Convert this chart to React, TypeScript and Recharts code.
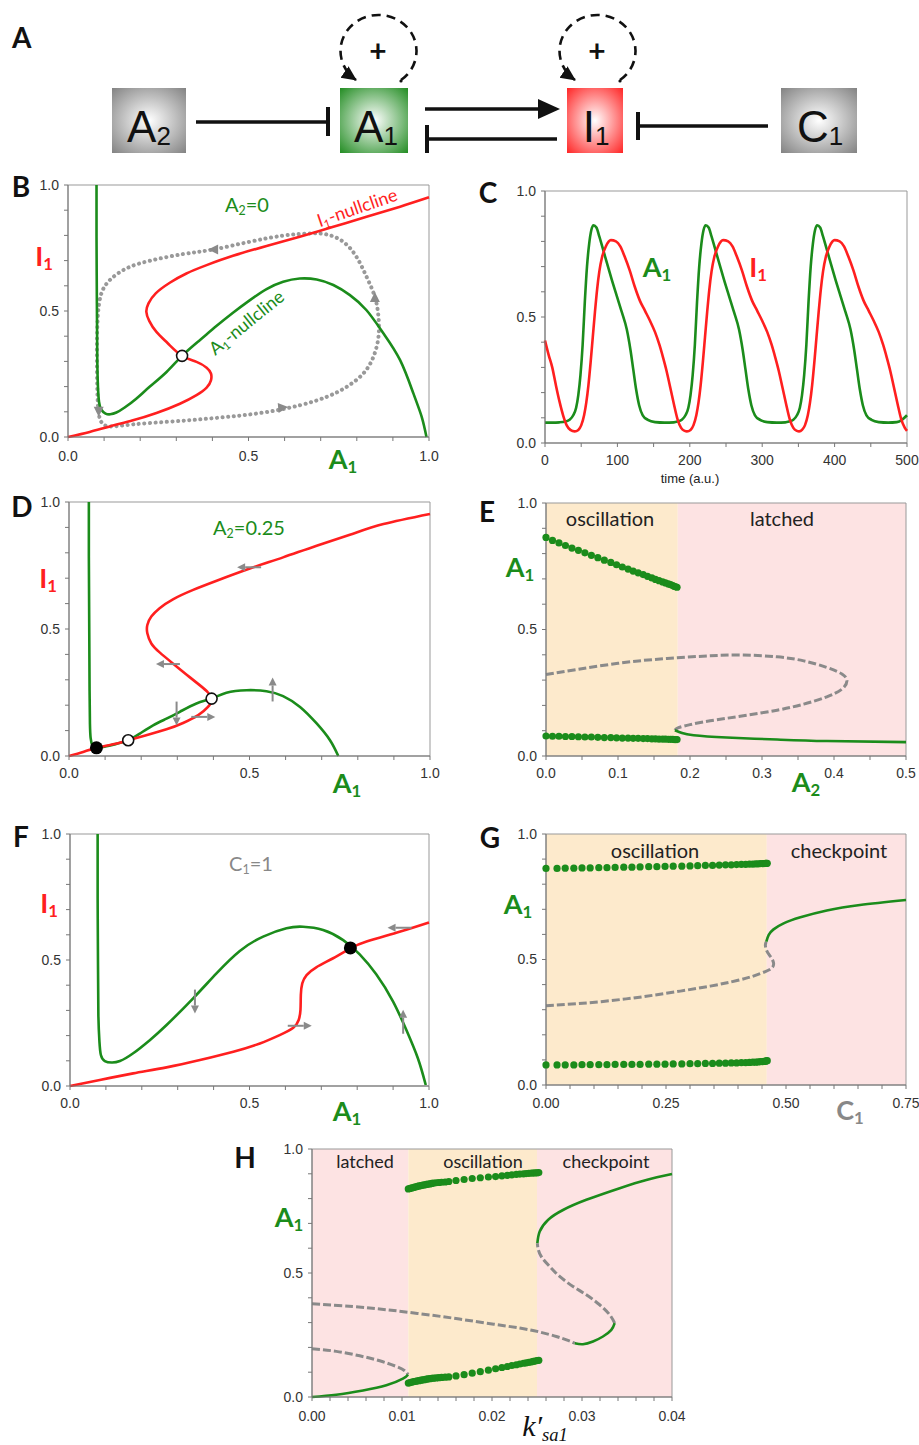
import React from 'react';
import { ComposedChart, Line, Scatter, XAxis, YAxis, ReferenceArea } from 'recharts';

const GREEN = '#1b8c1b';
const RED = '#ff1f1f';
const GRAY = '#8a8a8a';
const ORANGE_BG = '#fdeacc';
const PINK_BG = '#fde3e3';

type P = [number, number];

// ---- tick arrays ----
const unitTicks = [0, 0.1, 0.2, 0.3, 0.4, 0.5, 0.6, 0.7, 0.8, 0.9, 1.0];
const unitLabels = ['0.0', '', '', '', '', '0.5', '', '', '', '', '1.0'];
const timeTicks = [0, 50, 100, 150, 200, 250, 300, 350, 400, 450, 500];
const timeLabels = ['0', '', '100', '', '200', '', '300', '', '400', '', '500'];
const a2Ticks = [0, 0.05, 0.1, 0.15, 0.2, 0.25, 0.3, 0.35, 0.4, 0.45, 0.5];
const a2Labels = ['0.0', '', '0.1', '', '0.2', '', '0.3', '', '0.4', '', '0.5'];
const c1Ticks = [0, 0.05, 0.1, 0.15, 0.2, 0.25, 0.3, 0.35, 0.4, 0.45, 0.5, 0.55, 0.6, 0.65, 0.7, 0.75];
const c1Labels = ['0.00', '', '', '', '', '0.25', '', '', '', '', '0.50', '', '', '', '', '0.75'];
const kTicks = [0, 0.002, 0.004, 0.006, 0.008, 0.01, 0.012, 0.014, 0.016, 0.018, 0.02, 0.022, 0.024, 0.026, 0.028, 0.03, 0.032, 0.034, 0.036, 0.038, 0.04];
const kLabels = ['0.00', '', '', '', '', '0.01', '', '', '', '', '0.02', '', '', '', '', '0.03', '', '', '', '', '0.04'];

// ---- panel B (A2 = 0) ----
const bA1Null: P[] = [[0.079, 1.0], [0.079, 0.795], [0.080, 0.53], [0.081, 0.318], [0.083, 0.199], [0.086, 0.139], [0.092, 0.109], [0.104, 0.093], [0.117, 0.09], [0.134, 0.097], [0.157, 0.117], [0.189, 0.152], [0.226, 0.199], [0.273, 0.258], [0.316, 0.322], [0.365, 0.384], [0.411, 0.44], [0.457, 0.493], [0.504, 0.543], [0.55, 0.587], [0.596, 0.616], [0.642, 0.629], [0.689, 0.625], [0.735, 0.603], [0.781, 0.563], [0.827, 0.503], [0.873, 0.413], [0.92, 0.305], [0.957, 0.172], [0.98, 0.079], [0.993, 0.0]];
const bI1Null: P[] = [[0, 0], [0.06, 0.02], [0.116, 0.042], [0.18, 0.066], [0.245, 0.095], [0.31, 0.132], [0.356, 0.166], [0.384, 0.196], [0.396, 0.225], [0.396, 0.252], [0.384, 0.275], [0.356, 0.298], [0.316, 0.322], [0.277, 0.371], [0.245, 0.417], [0.225, 0.461], [0.217, 0.497], [0.223, 0.53], [0.243, 0.57], [0.282, 0.612], [0.328, 0.649], [0.384, 0.682], [0.457, 0.719], [0.55, 0.758], [0.642, 0.795], [0.735, 0.834], [0.827, 0.874], [0.92, 0.914], [1.0, 0.951]];
const bCycle: P[] = [[0.67, 0.808], [0.596, 0.799], [0.504, 0.775], [0.402, 0.744], [0.319, 0.726], [0.226, 0.699], [0.162, 0.669], [0.116, 0.623], [0.091, 0.563], [0.082, 0.464], [0.08, 0.331], [0.081, 0.199], [0.084, 0.106], [0.092, 0.06], [0.116, 0.042], [0.18, 0.05], [0.273, 0.06], [0.365, 0.07], [0.457, 0.082], [0.55, 0.099], [0.642, 0.126], [0.716, 0.159], [0.772, 0.199], [0.818, 0.252], [0.846, 0.318], [0.86, 0.397], [0.86, 0.477], [0.85, 0.556], [0.827, 0.636], [0.799, 0.715], [0.762, 0.775], [0.716, 0.804], [0.67, 0.808]];
const bArrows: [number, number, number][] = [[0.402, 0.744, 180], [0.085, 0.1, 270], [0.596, 0.117, 5], [0.85, 0.556, 90]];
const bSteady: P[] = [[0.316, 0.322]];

// ---- panel C (time course) ----
const cA1: P[] = [[0, 0.081], [10, 0.081], [20, 0.082], [28, 0.085], [34, 0.092], [39, 0.11], [43, 0.14], [46, 0.19], [49, 0.27], [52, 0.39], [55, 0.56], [58, 0.7], [61, 0.79], [64, 0.845], [67, 0.864], [71, 0.855], [75, 0.82], [80, 0.77], [86, 0.71], [92, 0.65], [99, 0.585], [106, 0.52], [113, 0.45], [118, 0.37], [122, 0.29], [126, 0.21], [130, 0.15], [135, 0.11], [142, 0.092], [152, 0.083], [165, 0.081], [178, 0.082],
  [183, 0.085], [189, 0.092], [194, 0.11], [198, 0.14], [201, 0.19], [204, 0.27], [207, 0.39], [210, 0.56], [213, 0.7], [216, 0.79], [219, 0.845], [222, 0.864], [226, 0.855], [230, 0.82], [235, 0.77], [241, 0.71], [247, 0.65], [254, 0.585], [261, 0.52], [268, 0.45], [273, 0.37], [277, 0.29], [281, 0.21], [285, 0.15], [290, 0.11], [297, 0.092], [307, 0.083], [320, 0.081], [332, 0.082],
  [337, 0.085], [343, 0.092], [348, 0.11], [352, 0.14], [355, 0.19], [358, 0.27], [361, 0.39], [364, 0.56], [367, 0.7], [370, 0.79], [373, 0.845], [376, 0.864], [380, 0.855], [384, 0.82], [389, 0.77], [395, 0.71], [401, 0.65], [408, 0.585], [415, 0.52], [422, 0.45], [427, 0.37], [431, 0.29], [435, 0.21], [439, 0.15], [444, 0.11], [451, 0.092], [461, 0.083], [474, 0.081], [486, 0.083], [493, 0.092], [500, 0.11]];
const cI1: P[] = [[0, 0.407], [5, 0.35], [10, 0.3], [15, 0.23], [20, 0.165], [25, 0.11], [30, 0.07], [35, 0.052], [41, 0.046], [46, 0.052], [50, 0.07], [54, 0.11], [57, 0.16], [60, 0.23], [63, 0.32], [66, 0.42], [69, 0.52], [72, 0.61], [75, 0.68], [79, 0.74], [84, 0.78], [91, 0.805], [98, 0.8], [104, 0.78], [110, 0.74], [117, 0.685], [124, 0.62], [131, 0.565], [138, 0.525], [145, 0.485], [152, 0.44], [158, 0.39], [163, 0.34], [168, 0.285], [173, 0.22], [178, 0.155], [183, 0.095], [188, 0.06], [193, 0.048], [196, 0.046],
  [201, 0.052], [205, 0.07], [209, 0.11], [212, 0.16], [215, 0.23], [218, 0.32], [221, 0.42], [224, 0.52], [227, 0.61], [230, 0.68], [234, 0.74], [239, 0.78], [246, 0.805], [253, 0.8], [259, 0.78], [265, 0.74], [272, 0.685], [279, 0.62], [286, 0.565], [293, 0.525], [300, 0.485], [307, 0.44], [313, 0.39], [318, 0.34], [323, 0.285], [328, 0.22], [333, 0.155], [338, 0.095], [343, 0.06], [348, 0.048], [351, 0.046],
  [355, 0.052], [359, 0.07], [363, 0.11], [366, 0.16], [369, 0.23], [372, 0.32], [375, 0.42], [378, 0.52], [381, 0.61], [384, 0.68], [388, 0.74], [393, 0.78], [400, 0.805], [407, 0.8], [413, 0.78], [419, 0.74], [426, 0.685], [433, 0.62], [440, 0.565], [447, 0.525], [454, 0.485], [461, 0.44], [467, 0.39], [472, 0.34], [477, 0.285], [482, 0.22], [487, 0.155], [492, 0.095], [497, 0.06], [500, 0.048]];

// ---- panel D (A2 = 0.25) ----
const dA1Null: P[] = [[0.055, 1.0], [0.055, 0.786], [0.056, 0.522], [0.057, 0.259], [0.058, 0.128], [0.06, 0.07], [0.065, 0.04], [0.076, 0.032], [0.104, 0.038], [0.135, 0.049], [0.164, 0.062], [0.196, 0.088], [0.233, 0.121], [0.27, 0.147], [0.307, 0.174], [0.353, 0.207], [0.395, 0.226], [0.436, 0.249], [0.492, 0.259], [0.547, 0.255], [0.593, 0.236], [0.64, 0.193], [0.686, 0.128], [0.723, 0.062], [0.746, 0.0]];
const dI1Null: P[] = [[0, 0], [0.039, 0.016], [0.076, 0.032], [0.122, 0.046], [0.164, 0.062], [0.214, 0.082], [0.27, 0.105], [0.316, 0.13], [0.358, 0.161], [0.385, 0.193], [0.395, 0.222], [0.385, 0.25], [0.362, 0.279], [0.325, 0.321], [0.288, 0.364], [0.251, 0.408], [0.228, 0.443], [0.217, 0.483], [0.217, 0.516], [0.228, 0.549], [0.251, 0.582], [0.288, 0.617], [0.344, 0.654], [0.409, 0.69], [0.501, 0.738], [0.593, 0.782], [0.686, 0.828], [0.778, 0.871], [0.871, 0.913], [1.0, 0.953]];
const dStable: P[] = [[0.076, 0.032]];
const dUnstable: P[] = [[0.164, 0.062], [0.395, 0.226]];
const dArrows: [number, number, number][] = [[0.499, 0.743, 180], [0.274, 0.362, 180], [0.298, 0.167, 270], [0.372, 0.154, 0], [0.564, 0.262, 90]];

// ---- panel E (bifurcation in A2) ----
const eUnstable: P[] = [[0, 0.322], [0.043, 0.342], [0.089, 0.362], [0.136, 0.378], [0.182, 0.388], [0.228, 0.396], [0.274, 0.399], [0.321, 0.392], [0.358, 0.376], [0.39, 0.35], [0.411, 0.324], [0.418, 0.297], [0.411, 0.264], [0.39, 0.234], [0.358, 0.205], [0.321, 0.181], [0.274, 0.159], [0.228, 0.139], [0.2, 0.124], [0.184, 0.112], [0.179, 0.102]];
const eStable: P[] = [[0.179, 0.102], [0.189, 0.091], [0.205, 0.082], [0.251, 0.073], [0.321, 0.065], [0.39, 0.059], [0.5, 0.055]];
const eDotX = [0, 0.009, 0.018, 0.027, 0.036, 0.045, 0.054, 0.063, 0.072, 0.081, 0.09, 0.098, 0.106, 0.114, 0.121, 0.128, 0.135, 0.141, 0.147, 0.152, 0.157, 0.162, 0.166, 0.17, 0.173, 0.176, 0.178, 0.18, 0.182];
const eTopY = [0.864, 0.852, 0.842, 0.832, 0.822, 0.813, 0.803, 0.793, 0.784, 0.774, 0.765, 0.756, 0.747, 0.739, 0.731, 0.724, 0.717, 0.71, 0.704, 0.698, 0.693, 0.688, 0.684, 0.68, 0.677, 0.674, 0.671, 0.669, 0.667];
const eBotY = [0.079, 0.078, 0.078, 0.077, 0.077, 0.076, 0.075, 0.075, 0.074, 0.073, 0.073, 0.072, 0.071, 0.071, 0.07, 0.07, 0.069, 0.069, 0.068, 0.068, 0.067, 0.067, 0.067, 0.066, 0.066, 0.066, 0.065, 0.065, 0.065];
const eOscEnd = 0.183;

// ---- panel F (C1 = 1) ----
const fA1Null: P[] = [[0.077, 1.0], [0.077, 0.745], [0.078, 0.48], [0.079, 0.282], [0.082, 0.176], [0.086, 0.123], [0.097, 0.099], [0.116, 0.093], [0.139, 0.099], [0.176, 0.13], [0.223, 0.183], [0.269, 0.242], [0.343, 0.348], [0.408, 0.447], [0.473, 0.536], [0.538, 0.593], [0.603, 0.626], [0.649, 0.632], [0.705, 0.619], [0.761, 0.579], [0.807, 0.522], [0.853, 0.443], [0.9, 0.335], [0.937, 0.222], [0.969, 0.11], [0.991, 0.004]];
const fI1Null: P[] = [[0, 0], [0.083, 0.024], [0.176, 0.05], [0.269, 0.074], [0.362, 0.103], [0.455, 0.136], [0.529, 0.169], [0.584, 0.202], [0.622, 0.231], [0.637, 0.262], [0.642, 0.302], [0.643, 0.361], [0.647, 0.407], [0.659, 0.44], [0.686, 0.471], [0.733, 0.507], [0.781, 0.546], [0.826, 0.573], [0.918, 0.612], [1.0, 0.649]];
const fStable: P[] = [[0.781, 0.548]];
const fArrows: [number, number, number][] = [[0.918, 0.628, 180], [0.348, 0.335, 270], [0.64, 0.239, 0], [0.928, 0.255, 90]];

// ---- panel G (bifurcation in C1) ----
const gUnstable: P[] = [[0, 0.316], [0.065, 0.324], [0.134, 0.336], [0.203, 0.352], [0.273, 0.372], [0.342, 0.394], [0.398, 0.416], [0.432, 0.434], [0.457, 0.452], [0.471, 0.467], [0.474, 0.487], [0.468, 0.511], [0.46, 0.534], [0.457, 0.558], [0.459, 0.571]];
const gStable: P[] = [[0.459, 0.571], [0.464, 0.598], [0.474, 0.62], [0.495, 0.644], [0.53, 0.668], [0.585, 0.695], [0.654, 0.717], [0.75, 0.737]];
const gDotX = [0, 0.023, 0.04, 0.058, 0.075, 0.092, 0.11, 0.127, 0.144, 0.162, 0.179, 0.196, 0.214, 0.231, 0.248, 0.265, 0.283, 0.3, 0.316, 0.332, 0.347, 0.361, 0.374, 0.386, 0.397, 0.407, 0.416, 0.424, 0.431, 0.437, 0.442, 0.447, 0.451, 0.454, 0.457, 0.459, 0.461];
const gTopY = [0.863, 0.863, 0.864, 0.864, 0.865, 0.865, 0.866, 0.866, 0.867, 0.868, 0.868, 0.869, 0.87, 0.87, 0.871, 0.872, 0.872, 0.873, 0.874, 0.875, 0.875, 0.876, 0.877, 0.877, 0.878, 0.879, 0.879, 0.88, 0.88, 0.881, 0.881, 0.882, 0.882, 0.882, 0.883, 0.883, 0.883];
const gBotY = [0.08, 0.08, 0.08, 0.08, 0.081, 0.081, 0.081, 0.081, 0.082, 0.082, 0.082, 0.082, 0.083, 0.083, 0.083, 0.084, 0.084, 0.085, 0.085, 0.086, 0.086, 0.087, 0.087, 0.088, 0.088, 0.089, 0.089, 0.09, 0.091, 0.091, 0.092, 0.093, 0.093, 0.094, 0.095, 0.096, 0.097];
const gOscEnd = 0.46;

// ---- panel H (bifurcation in k'sa1) ----
const hUnstableTop: P[] = [[0, 0.376], [0.00456, 0.365], [0.00826, 0.352], [0.01196, 0.336], [0.01567, 0.318], [0.01937, 0.298], [0.02307, 0.278], [0.0253, 0.262], [0.02715, 0.244], [0.02844, 0.228], [0.02919, 0.217]];
const hStableMid: P[] = [[0.02919, 0.217], [0.03011, 0.213], [0.03122, 0.224], [0.03233, 0.244], [0.03326, 0.271], [0.03363, 0.298]];
const hUnstableMid: P[] = [[0.03363, 0.298], [0.03307, 0.332], [0.03196, 0.372], [0.03048, 0.412], [0.029, 0.446], [0.02752, 0.486], [0.02641, 0.526], [0.02548, 0.566], [0.02511, 0.6], [0.02504, 0.62]];
const hStableTop: P[] = [[0.02504, 0.62], [0.0253, 0.667], [0.02622, 0.714], [0.02789, 0.754], [0.03048, 0.795], [0.03419, 0.842], [0.03715, 0.875], [0.04, 0.899]];
const hUnstableLow: P[] = [[0, 0.195], [0.0027, 0.184], [0.0053, 0.166], [0.00752, 0.146], [0.00937, 0.123], [0.0103, 0.106], [0.01067, 0.09]];
const hStableLow: P[] = [[0, 0], [0.0027, 0.009], [0.00567, 0.026], [0.00826, 0.047], [0.0101, 0.074], [0.01067, 0.09]];
const hDotX = [0.0107, 0.0109, 0.0111, 0.0113, 0.0115, 0.0117, 0.0119, 0.0121, 0.0123, 0.0125, 0.0127, 0.0129, 0.0131, 0.0133, 0.0135, 0.0138, 0.0141, 0.0144, 0.0148, 0.0152, 0.016, 0.0169, 0.0178, 0.0187, 0.0196, 0.0204, 0.0211, 0.0217, 0.0222, 0.0227, 0.0231, 0.0235, 0.0238, 0.0241, 0.0244, 0.0246, 0.0248, 0.025, 0.0252];
const hTopY = [0.839, 0.841, 0.843, 0.845, 0.847, 0.849, 0.851, 0.852, 0.854, 0.855, 0.857, 0.858, 0.859, 0.861, 0.862, 0.864, 0.865, 0.866, 0.867, 0.869, 0.873, 0.877, 0.881, 0.884, 0.887, 0.889, 0.892, 0.894, 0.896, 0.898, 0.899, 0.9, 0.901, 0.902, 0.903, 0.903, 0.904, 0.904, 0.905];
const hBotY = [0.056, 0.058, 0.06, 0.062, 0.063, 0.065, 0.066, 0.068, 0.069, 0.07, 0.072, 0.073, 0.074, 0.075, 0.076, 0.077, 0.078, 0.079, 0.08, 0.081, 0.085, 0.09, 0.096, 0.102, 0.108, 0.114, 0.119, 0.123, 0.127, 0.13, 0.133, 0.136, 0.138, 0.14, 0.142, 0.144, 0.145, 0.147, 0.148];
const hOscStart = 0.0107;
const hOscEnd = 0.0250;

// ---- helpers ----
const pts = (a: P[]) => a.map(([x, y]) => ({ x, y }));
const dots = (xs: number[], ys: number[]) => xs.map((x, i) => ({ x, y: ys[i] }));
const arrows = (a: [number, number, number][]) => a.map(([x, y, dir]) => ({ x, y, dir }));
const fmt = (ticks: number[], labels: string[]) => (v: number) => {
  const i = ticks.findIndex((t) => Math.abs(t - v) < 1e-9);
  return i >= 0 ? labels[i] : '';
};

const tickFont = { fontSize: 14, fill: '#333', fontFamily: 'Liberation Sans, Arial, sans-serif' };

const GreenDot = (p: any) => <circle cx={p.cx} cy={p.cy} r={3.6} fill={GREEN} />;
const OpenCircle = (p: any) => <circle cx={p.cx} cy={p.cy} r={5.5} fill="#fff" stroke="#111" strokeWidth={1.6} />;
const BlackDot = (p: any) => <circle cx={p.cx} cy={p.cy} r={6.5} fill="#000" />;
const Head = (p: any) => {
  const a = (p.payload.dir * Math.PI) / 180;
  const dx = Math.cos(a), dy = -Math.sin(a);
  const tx = p.cx + dx * 5, ty = p.cy + dy * 5;
  const bx = p.cx - dx * 5, by = p.cy - dy * 5;
  return <polygon points={`${tx},${ty} ${bx - dy * 5},${by + dx * 5} ${bx + dy * 5},${by - dx * 5}`} fill={GRAY} />;
};
const Arrow = (p: any) => {
  const a = (p.payload.dir * Math.PI) / 180;
  const dx = Math.cos(a), dy = -Math.sin(a);
  const L = 12;
  const x1 = p.cx - dx * L, y1 = p.cy - dy * L;
  const tx = p.cx + dx * L, ty = p.cy + dy * L;
  const bx = tx - dx * 8, by = ty - dy * 8;
  return (
    <g>
      <line x1={x1} y1={y1} x2={bx} y2={by} stroke={GRAY} strokeWidth={2} />
      <polygon points={`${tx},${ty} ${bx - dy * 4},${by + dx * 4} ${bx + dy * 4},${by - dx * 4}`} fill={GRAY} />
    </g>
  );
};

type Box = { l: number; t: number; w: number; h: number };

function Plot(props: {
  box: Box; xDomain: [number, number]; xTicks: number[]; xLabels: string[]; xGap: number; children: React.ReactNode;
}) {
  const { box, xDomain, xTicks, xLabels, xGap, children } = props;
  const YW = 44, XH = 30, MT = 8, MR = 24;
  return (
    <div style={{ position: 'absolute', left: box.l - YW, top: box.t - MT }}>
      <ComposedChart width={box.w + YW + MR} height={box.h + MT + XH} margin={{ top: MT, right: MR, left: 0, bottom: 0 }}>
        <XAxis type="number" dataKey="x" domain={xDomain} ticks={xTicks} interval={0} tickFormatter={fmt(xTicks, xLabels)}
          height={XH} stroke="#777" tickSize={4} tickMargin={xGap} tick={tickFont} />
        <YAxis type="number" dataKey="y" domain={[0, 1]} ticks={unitTicks} interval={0} tickFormatter={fmt(unitTicks, unitLabels)}
          width={YW} stroke="#777" tickSize={4} tickMargin={5} tick={tickFont} />
        {children}
        <ReferenceArea x1={xDomain[0]} x2={xDomain[1]} y1={0} y2={1} fill="none" stroke="#999" strokeWidth={1} />
      </ComposedChart>
    </div>
  );
}

const curve = (key: string, data: P[], color: string, type: any = 'natural', extra: any = {}) => (
  <Line key={key} data={pts(data)} dataKey="y" type={type} stroke={color} strokeWidth={2.6} dot={false} activeDot={false}
    isAnimationActive={false} legendType="none" {...extra} />
);
const dashed = (key: string, data: P[]) =>
  curve(key, data, GRAY, 'natural', { strokeDasharray: '8 3', strokeWidth: 3 });

function Txt(props: { x: number; y: number; size?: number; color?: string; bold?: boolean; rotate?: number; font?: string; italic?: boolean; children: React.ReactNode }) {
  const { x, y, size = 20, color = '#222', bold = false, rotate = 0, font = 'Lato, "Open Sans", sans-serif', italic = false, children } = props;
  return (
    <div style={{ position: 'absolute', left: x, top: y, transform: `translate(-50%, -50%) rotate(${rotate}deg)`, fontSize: size, color,
      fontWeight: bold ? 700 : 400, fontStyle: italic ? 'italic' : 'normal', fontFamily: font, whiteSpace: 'nowrap', lineHeight: 1 }}>
      {children}
    </div>
  );
}
const Sub = ({ children }: { children: React.ReactNode }) => (
  <sub style={{ fontSize: '0.62em', verticalAlign: '-0.28em', lineHeight: 0 }}>{children}</sub>
);

function Network() {
  const box = (x: number, w: number, grad: string) => <rect x={x} y={88} width={w} height={65} fill={`url(#${grad})`} />;
  const nodeFont = '"Liberation Sans Narrow", "Liberation Sans", sans-serif';
  const label = (cx: number, main: string, sub: string) => (
    <text x={cx} y={142} textAnchor="middle" fontSize={44} fontFamily={nodeFont} fill="#111">
      {main}<tspan fontSize={26} dy={3}>{sub}</tspan>
    </text>
  );
  const loop = (sx: number, ex: number) => (
    <path d={`M ${sx} 80 A 38 36 0 1 0 ${ex} 80`} fill="none" stroke="#111" strokeWidth={2.6} strokeDasharray="9 6" markerEnd="url(#ah)" />
  );
  return (
    <svg width={919} height={170} style={{ position: 'absolute', left: 0, top: 0 }}>
      <defs>
        <radialGradient id="gGray" cx="50%" cy="50%" r="72%"><stop offset="0%" stopColor="#fff" /><stop offset="100%" stopColor="#808080" /></radialGradient>
        <radialGradient id="gGreen" cx="50%" cy="50%" r="72%"><stop offset="0%" stopColor="#fff" /><stop offset="100%" stopColor="#1e8a1e" /></radialGradient>
        <radialGradient id="gRed" cx="50%" cy="50%" r="72%"><stop offset="0%" stopColor="#fff" /><stop offset="100%" stopColor="#ff2020" /></radialGradient>
        <marker id="ah" markerUnits="userSpaceOnUse" markerWidth={16} markerHeight={16} refX={14} refY={7} orient="auto">
          <path d="M0,0 L15,7 L0,14 z" fill="#111" />
        </marker>
      </defs>
      <text x={12} y={48} fontSize={28} fontWeight="bold" fontFamily="Lato, sans-serif" fill="#111">A</text>
      {box(112, 74, 'gGray')}
      {box(340, 68, 'gGreen')}
      {box(567, 56, 'gRed')}
      {box(781, 76, 'gGray')}
      {label(149, 'A', '2')}
      {label(376, 'A', '1')}
      {label(596, 'I', '1')}
      {label(820, 'C', '1')}
      <line x1={196} y1={122} x2={328} y2={122} stroke="#111" strokeWidth={3.5} />
      <line x1={328} y1={107} x2={328} y2={136} stroke="#111" strokeWidth={4} />
      <line x1={425} y1={109} x2={542} y2={109} stroke="#111" strokeWidth={3.5} />
      <polygon points="560,109 538,99 538,119" fill="#111" />
      <line x1={427} y1={139} x2={557} y2={139} stroke="#111" strokeWidth={3.5} />
      <line x1={427} y1={125} x2={427} y2={153} stroke="#111" strokeWidth={4} />
      <line x1={638} y1={126} x2={768} y2={126} stroke="#111" strokeWidth={3.5} />
      <line x1={638} y1={112} x2={638} y2={140} stroke="#111" strokeWidth={4} />
      {loop(401, 356)}
      {loop(620, 575)}
      <circle cx={401} cy={81} r={1.6} fill="#111" />
      <circle cx={620} cy={81} r={1.6} fill="#111" />
      <text x={378} y={62} textAnchor="middle" fontSize={30} fontWeight="bold" fontFamily="Lato, sans-serif" fill="#111">+</text>
      <text x={597} y={62} textAnchor="middle" fontSize={30} fontWeight="bold" fontFamily="Lato, sans-serif" fill="#111">+</text>
    </svg>
  );
}

const boxB: Box = { l: 68, t: 185, w: 361, h: 252 };
const boxC: Box = { l: 545, t: 191, w: 362, h: 252 };
const boxD: Box = { l: 69, t: 502, w: 361, h: 254 };
const boxE: Box = { l: 546, t: 503, w: 360, h: 253 };
const boxF: Box = { l: 70, t: 834, w: 359, h: 252 };
const boxG: Box = { l: 546, t: 834, w: 360, h: 251 };
const boxH: Box = { l: 312, t: 1149, w: 360, h: 248 };

export default function App() {
  const bigLabel = 27;
  return (
    <div style={{ position: 'absolute', left: 0, top: 0, width: 919, height: 1445, background: '#fff', overflow: 'hidden' }}>
      <Network />

      <Plot box={boxB} xDomain={[0, 1]} xTicks={unitTicks} xLabels={unitLabels} xGap={10}>
        {curve('b-cyc', bCycle, '#999', 'natural', { strokeDasharray: '0.1 5.5', strokeLinecap: 'round', strokeWidth: 4 })}
        {curve('b-a1', bA1Null, GREEN)}
        {curve('b-i1', bI1Null, RED)}
        <Scatter key="b-arr" data={arrows(bArrows)} dataKey="y" shape={Head} isAnimationActive={false} />
        <Scatter key="b-ss" data={pts(bSteady)} dataKey="y" shape={OpenCircle} isAnimationActive={false} />
      </Plot>

      <Plot box={boxC} xDomain={[0, 500]} xTicks={timeTicks} xLabels={timeLabels} xGap={8}>
        {curve('c-a1', cA1, GREEN, 'monotone')}
        {curve('c-i1', cI1, RED, 'monotone')}
      </Plot>

      <Plot box={boxD} xDomain={[0, 1]} xTicks={unitTicks} xLabels={unitLabels} xGap={8}>
        {curve('d-a1', dA1Null, GREEN)}
        {curve('d-i1', dI1Null, RED)}
        <Scatter key="d-arr" data={arrows(dArrows)} dataKey="y" shape={Arrow} isAnimationActive={false} />
        <Scatter key="d-st" data={pts(dStable)} dataKey="y" shape={BlackDot} isAnimationActive={false} />
        <Scatter key="d-un" data={pts(dUnstable)} dataKey="y" shape={OpenCircle} isAnimationActive={false} />
      </Plot>

      <Plot box={boxE} xDomain={[0, 0.5]} xTicks={a2Ticks} xLabels={a2Labels} xGap={8}>
        <ReferenceArea key="e-osc" x1={0} x2={eOscEnd} y1={0} y2={1} fill={ORANGE_BG} fillOpacity={1} stroke="none" />
        <ReferenceArea key="e-lat" x1={eOscEnd} x2={0.5} y1={0} y2={1} fill={PINK_BG} fillOpacity={1} stroke="none" />
        {dashed('e-un', eUnstable)}
        {curve('e-st', eStable, GREEN)}
        <Scatter key="e-top" data={dots(eDotX, eTopY)} dataKey="y" shape={GreenDot} isAnimationActive={false} />
        <Scatter key="e-bot" data={dots(eDotX, eBotY)} dataKey="y" shape={GreenDot} isAnimationActive={false} />
      </Plot>

      <Plot box={boxF} xDomain={[0, 1]} xTicks={unitTicks} xLabels={unitLabels} xGap={8}>
        {curve('f-a1', fA1Null, GREEN)}
        {curve('f-i1', fI1Null, RED)}
        <Scatter key="f-arr" data={arrows(fArrows)} dataKey="y" shape={Arrow} isAnimationActive={false} />
        <Scatter key="f-st" data={pts(fStable)} dataKey="y" shape={BlackDot} isAnimationActive={false} />
      </Plot>

      <Plot box={boxG} xDomain={[0, 0.75]} xTicks={c1Ticks} xLabels={c1Labels} xGap={9}>
        <ReferenceArea key="g-osc" x1={0} x2={gOscEnd} y1={0} y2={1} fill={ORANGE_BG} fillOpacity={1} stroke="none" />
        <ReferenceArea key="g-chk" x1={gOscEnd} x2={0.75} y1={0} y2={1} fill={PINK_BG} fillOpacity={1} stroke="none" />
        {dashed('g-un', gUnstable)}
        {curve('g-st', gStable, GREEN)}
        <Scatter key="g-top" data={dots(gDotX, gTopY)} dataKey="y" shape={GreenDot} isAnimationActive={false} />
        <Scatter key="g-bot" data={dots(gDotX, gBotY)} dataKey="y" shape={GreenDot} isAnimationActive={false} />
      </Plot>

      <Plot box={boxH} xDomain={[0, 0.04]} xTicks={kTicks} xLabels={kLabels} xGap={10}>
        <ReferenceArea key="h-lat" x1={0} x2={hOscStart} y1={0} y2={1} fill={PINK_BG} fillOpacity={1} stroke="none" />
        <ReferenceArea key="h-osc" x1={hOscStart} x2={hOscEnd} y1={0} y2={1} fill={ORANGE_BG} fillOpacity={1} stroke="none" />
        <ReferenceArea key="h-chk" x1={hOscEnd} x2={0.04} y1={0} y2={1} fill={PINK_BG} fillOpacity={1} stroke="none" />
        {dashed('h-ut', hUnstableTop)}
        {dashed('h-um', hUnstableMid)}
        {dashed('h-ul', hUnstableLow)}
        {curve('h-sm', hStableMid, GREEN)}
        {curve('h-st', hStableTop, GREEN)}
        {curve('h-sl', hStableLow, GREEN)}
        <Scatter key="h-top" data={dots(hDotX, hTopY)} dataKey="y" shape={GreenDot} isAnimationActive={false} />
        <Scatter key="h-bot" data={dots(hDotX, hBotY)} dataKey="y" shape={GreenDot} isAnimationActive={false} />
      </Plot>

      {/* panel letters */}
      <Txt x={21} y={186} size={28} bold color="#111">B</Txt>
      <Txt x={488} y={192} size={28} bold color="#111">C</Txt>
      <Txt x={22} y={506} size={28} bold color="#111">D</Txt>
      <Txt x={487} y={511} size={28} bold color="#111">E</Txt>
      <Txt x={21} y={836} size={28} bold color="#111">F</Txt>
      <Txt x={490} y={837} size={28} bold color="#111">G</Txt>
      <Txt x={245} y={1157} size={28} bold color="#111">H</Txt>

      {/* B */}
      <Txt x={44} y={255} size={bigLabel} bold color={RED}>I<Sub>1</Sub></Txt>
      <Txt x={343} y={458} size={bigLabel} bold color={GREEN}>A<Sub>1</Sub></Txt>
      <Txt x={247} y={204} size={20} color={GREEN}>A<Sub>2</Sub>=0</Txt>
      <Txt x={357} y={207} size={18} color={RED} rotate={-19}>I<Sub>1</Sub>-nullcline</Txt>
      <Txt x={246} y={322} size={18} color={GREEN} rotate={-39}>A<Sub>1</Sub>-nullcline</Txt>

      {/* C */}
      <Txt x={657} y={266} size={bigLabel} bold color={GREEN}>A<Sub>1</Sub></Txt>
      <Txt x={758} y={266} size={bigLabel} bold color={RED}>I<Sub>1</Sub></Txt>
      <Txt x={690} y={478} size={13} color="#222" font="Liberation Sans, Arial, sans-serif">time (a.u.)</Txt>

      {/* D */}
      <Txt x={48} y={577} size={bigLabel} bold color={RED}>I<Sub>1</Sub></Txt>
      <Txt x={347} y={782} size={bigLabel} bold color={GREEN}>A<Sub>1</Sub></Txt>
      <Txt x={249} y={527} size={20} color={GREEN}>A<Sub>2</Sub>=0.25</Txt>

      {/* E */}
      <Txt x={610} y={518} size={20} color="#222">oscillation</Txt>
      <Txt x={782} y={518} size={20} color="#222">latched</Txt>
      <Txt x={520} y={566} size={bigLabel} bold color={GREEN}>A<Sub>1</Sub></Txt>
      <Txt x={806} y={781} size={bigLabel} bold color={GREEN}>A<Sub>2</Sub></Txt>

      {/* F */}
      <Txt x={49} y={902} size={bigLabel} bold color={RED}>I<Sub>1</Sub></Txt>
      <Txt x={347} y={1110} size={bigLabel} bold color={GREEN}>A<Sub>1</Sub></Txt>
      <Txt x={251} y={863} size={20} color="#888">C<Sub>1</Sub>=1</Txt>

      {/* G */}
      <Txt x={655} y={850} size={20} color="#222">oscillation</Txt>
      <Txt x={839} y={850} size={20} color="#222">checkpoint</Txt>
      <Txt x={518} y={903} size={bigLabel} bold color={GREEN}>A<Sub>1</Sub></Txt>
      <Txt x={850} y={1109} size={bigLabel} bold color="#888">C<Sub>1</Sub></Txt>

      {/* H */}
      <Txt x={365} y={1161} size={18} color="#222">latched</Txt>
      <Txt x={483} y={1161} size={18} color="#222">oscillation</Txt>
      <Txt x={606} y={1161} size={18} color="#222">checkpoint</Txt>
      <Txt x={289} y={1216} size={bigLabel} bold color={GREEN}>A<Sub>1</Sub></Txt>
      <Txt x={545} y={1426} size={30} italic color="#111" font='"Liberation Serif", "DejaVu Serif", serif'>k′<Sub>sa1</Sub></Txt>
    </div>
  );
}
